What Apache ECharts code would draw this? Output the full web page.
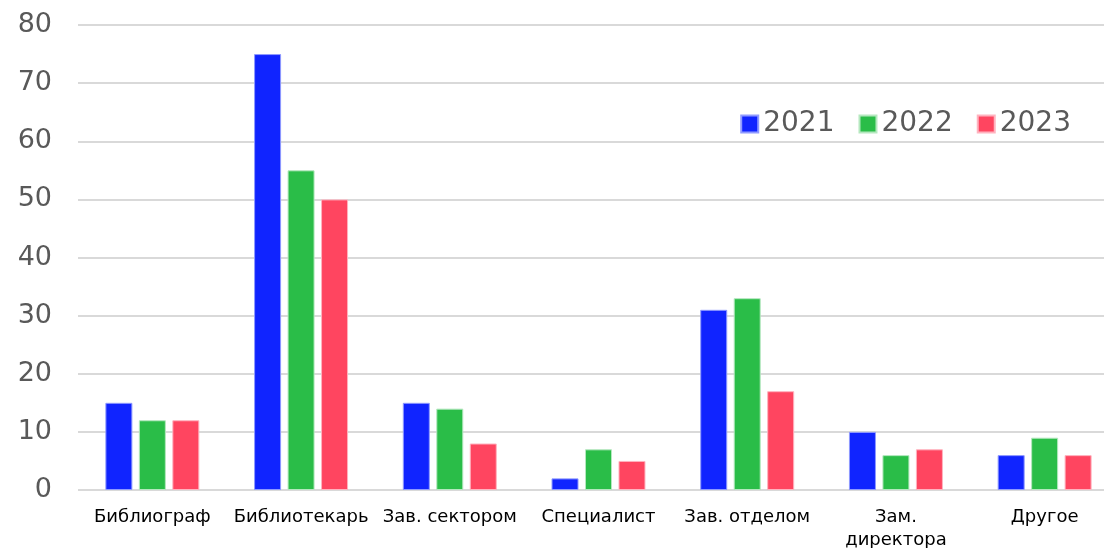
<!DOCTYPE html>
<html><head><meta charset="utf-8">
<script src="https://cdn.jsdelivr.net/npm/echarts@6/dist/echarts.min.js"></script>
<style>html,body{margin:0;padding:0;background:#fff}#c{width:1104px;height:548px}</style>
</head><body><div id="c"></div>
<script>
const categories = ['Библиограф','Библиотекарь','Зав. сектором','Специалист','Зав. отделом','Зам.\nдиректора','Другое'];
const seriesNames = ['2021','2022','2023'];
const v2021 = [15,75,15,2,31,10,6];
const v2022 = [12,55,14,7,33,6,9];
const v2023 = [12,50,8,5,17,7,6];
const colors = ['#1024FF','#2ABD48','#FF4560'];
const borders = ['#8f9aff','#b5e8bf','#ffb3bf'];
const chart = echarts.init(document.getElementById('c'));
const data = [v2021, v2022, v2023];
chart.setOption({
  animation:false,
  grid:{left:78, top:25, width:1041, height:465, containLabel:false, outerBoundsMode:'none'},
  legend:{
    right:28, top:105, itemWidth:17, itemHeight:17, itemGap:24,
    textStyle:{fontFamily:'DejaVu Sans', fontSize:28, color:'#595959', padding:[0,0,0,0]},
    data:seriesNames.map((n,i)=>({name:n, icon:'rect'}))
  },
  xAxis:{
    type:'category', data:categories,
    axisLine:{show:false}, axisTick:{show:false},
    axisLabel:{fontFamily:'DejaVu Sans', fontSize:18, color:'#000', margin:16, lineHeight:23, interval:0}
  },
  yAxis:{
    type:'value', min:0, max:80, interval:10,
    axisLine:{show:false}, axisTick:{show:false},
    splitLine:{lineStyle:{color:'#d9d9d9', width:2}},
    axisLabel:{fontFamily:'DejaVu Sans', fontSize:27, color:'#595959', margin:26}
  },
  series: seriesNames.map((n,i)=>({
    name:n, type:'bar', data:data[i], barWidth:27, barGap:'24%',
    itemStyle:{color:colors[i], borderColor:borders[i], borderWidth:1}
  }))
});
</script></body></html>
